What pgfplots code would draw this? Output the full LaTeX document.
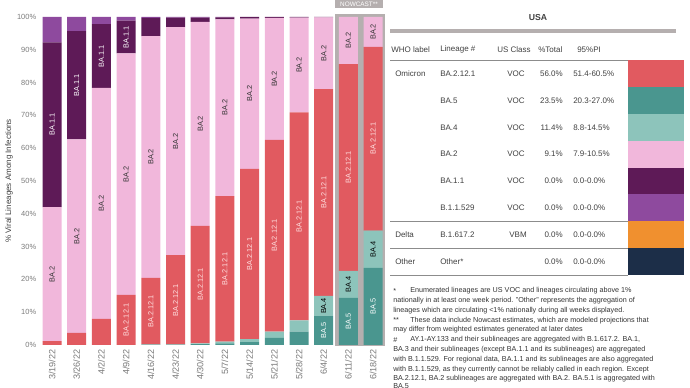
\documentclass[border=0pt]{standalone}
\usepackage{pgfplots}
\pgfplotsset{compat=1.18}
\usepackage{pgfplotstable}
\usepackage{fontspec}
\setmainfont{Liberation Sans}
\definecolor{cBAfive}{HTML}{4A968F}
\definecolor{cBAfour}{HTML}{8DC4BB}
\definecolor{cBAtwelve}{HTML}{E15A60}
\definecolor{cBAtwo}{HTML}{F1B7DB}
\definecolor{cBAoneone}{HTML}{5E1A57}
\definecolor{cBonefive}{HTML}{8E4A9E}
\definecolor{cDelta}{HTML}{F0902F}
\definecolor{cOther}{HTML}{1C2E48}
\definecolor{cGrey}{HTML}{B5AFAF}
\definecolor{cText}{HTML}{404040}
\definecolor{cTick}{HTML}{7A7A7A}

\pgfplotstableread{
idx BAfive BAfour BAtwelve BAtwo BAoneone Bonefive
0  0    0    1.2  40.8 50.3 7.7
1  0    0    3.7  59.0 33.0 4.3
2  0    0    8.0  70.4 19.4 2.2
3  0    0    15.3 73.6 10.0 1.1
4  0.1  0.1  20.3 73.7 5.5  0.3
5  0.1  0.1  27.2 69.5 2.9  0.2
6  0.3  0.2  35.8 62.2 1.3  0.2
7  0.5  0.5  44.4 53.9 0.6  0.1
8  0.9  0.9  51.9 45.8 0.5  0
9  2.2  1.9  58.4 37.2 0.3  0
10 4.1  3.4  63.4 28.9 0.2  0
11 8.8  6.2  63.0 21.9 0.1  0
12 14.4 8.2  63.0 14.4 0    0
13 23.5 11.4 56.0 9.1  0    0
}\datatable

\tikzset{
  lbl/.style={rotate=90, font=\fontsize{5.5}{6}\selectfont, inner sep=0pt},
  tb/.style={font=\fontsize{6}{7}\selectfont, text=cText, inner sep=0pt},
  fn/.style={font=\fontsize{5.4}{6}\selectfont, text=black!80, inner sep=0pt, anchor=west},
}

\begin{document}
\begin{tikzpicture}
\useasboundingbox (0,0) rectangle (517.5pt,-291pt);
\begin{scope}[x=0.75pt,y=-0.75pt]
  % Nowcast frame
  \fill[cGrey] (335,14) rectangle (385,346.5);
  \fill[cGrey] (335,0) rectangle (383,8.5);
  \node[text=white, font=\fontsize{4.8}{5}\selectfont, inner sep=0pt] at (359,4.3) {NOWCAST**};
  % y label
  \node[rotate=90, font=\fontsize{6}{7}\selectfont, text=cText] at (9,181) {\% Viral Lineages Among Infections};
\end{scope}

\begin{axis}[
  at={(30.675pt,-258.75pt)}, anchor=south west,
  x=18.525pt, y=2.46pt,
  xmin=-0.45, xmax=13.55, ymin=0, ymax=100,
  ybar stacked, bar width=14.25pt,
  axis lines*=left,
  axis line style={draw=none},
  major tick length=0pt,
  tick pos=left,
  /pgf/number format/assume math mode=true,
  ytick={0,10,...,100},
  yticklabel={\pgfmathprintnumber{\tick}\%},
  yticklabel style={font=\fontsize{5.6}{6}\selectfont, text=cTick},
  xtick=data,
  xticklabels={3/19/22,3/26/22,4/2/22,4/9/22,4/16/22,4/23/22,4/30/22,5/7/22,5/14/22,5/21/22,5/28/22,6/4/22,6/11/22,6/18/22},
  xticklabel style={rotate=90, anchor=east, font=\fontsize{6.8}{7}\selectfont, text=cTick},
  clip=false,
]
\addplot[fill=cBAfive, draw=none] table[x=idx,y=BAfive]{\datatable};
\addplot[fill=cBAfour, draw=none] table[x=idx,y=BAfour]{\datatable};
\addplot[fill=cBAtwelve, draw=none] table[x=idx,y=BAtwelve]{\datatable};
\addplot[fill=cBAtwo, draw=none] table[x=idx,y=BAtwo]{\datatable};
\addplot[fill=cBAoneone, draw=none] table[x=idx,y=BAoneone]{\datatable};
\addplot[fill=cBonefive, draw=none] table[x=idx,y=Bonefive]{\datatable};

% label anchor points (segment centres)
\coordinate (a0) at (axis cs:0,67.15);
\coordinate (a1) at (axis cs:1,79.2);
\coordinate (a2) at (axis cs:2,88.1);
\coordinate (a3) at (axis cs:3,93.9);
\coordinate (b0) at (axis cs:0,21.6);
\coordinate (b1) at (axis cs:1,33.2);
\coordinate (b2) at (axis cs:2,43.2);
\coordinate (b3) at (axis cs:3,52.1);
\coordinate (b4) at (axis cs:4,57.35);
\coordinate (b5) at (axis cs:5,62.15);
\coordinate (b6) at (axis cs:6,67.4);
\coordinate (b7) at (axis cs:7,72.35);
\coordinate (b8) at (axis cs:8,76.6);
\coordinate (b9) at (axis cs:9,81.1);
\coordinate (b10) at (axis cs:10,85.35);
\coordinate (b11) at (axis cs:11,88.95);
\coordinate (b12) at (axis cs:12,92.8);
\coordinate (b13) at (axis cs:13,95.45);
\coordinate (r3) at (axis cs:3,7.65);
\coordinate (r4) at (axis cs:4,10.25);
\coordinate (r5) at (axis cs:5,13.7);
\coordinate (r6) at (axis cs:6,18.4);
\coordinate (r7) at (axis cs:7,23.2);
\coordinate (r8) at (axis cs:8,27.75);
\coordinate (r9) at (axis cs:9,33.3);
\coordinate (r10) at (axis cs:10,39.2);
\coordinate (r11) at (axis cs:11,46.5);
\coordinate (r12) at (axis cs:12,54.1);
\coordinate (r13) at (axis cs:13,62.9);
\coordinate (f11) at (axis cs:11,11.9);
\coordinate (f12) at (axis cs:12,18.5);
\coordinate (f13) at (axis cs:13,29.2);
\coordinate (v11) at (axis cs:11,4.4);
\coordinate (v12) at (axis cs:12,7.2);
\coordinate (v13) at (axis cs:13,11.75);
\end{axis}

% bar labels, on top of the bars
\foreach \p in {a0,a1,a2,a3} {\node[lbl, text=white] at (\p) {BA.1.1};}
\foreach \p in {b0,b1,b2,b3,b4,b5,b6,b7,b8,b9,b10,b11,b12,b13} {\node[lbl, text=black!80] at (\p) {BA.2};}
\foreach \p in {r3,r4,r5,r6,r7,r8,r9,r10,r11,r12,r13} {\node[lbl, text=white!88!red] at (\p) {BA.2.12.1};}
\foreach \p in {f11,f12,f13} {\node[lbl, text=black] at (\p) {BA.4};}
\foreach \p in {v11,v12,v13} {\node[lbl, text=white] at (\p) {BA.5};}

\begin{scope}[x=0.75pt,y=-0.75pt]
  % table
  \node[tb, font=\fontsize{6.5}{7}\selectfont\bfseries] at (538,18) {USA};
  \fill[cGrey] (390,29) rectangle (676,33);
  \node[tb, anchor=west] at (391,49.5) {WHO label};
  \node[tb, anchor=west] at (440,49.5) {Lineage \#};
  \node[tb, anchor=west] at (497,49.5) {US Class};
  \node[tb, anchor=west] at (538,49.5) {\%Total};
  \node[tb, anchor=west] at (577,49.5) {95\%PI};
  \draw[black!45, line width=0.6pt] (390,60.5) -- (628,60.5);
  \draw[black!45, line width=0.6pt] (390,221.4) -- (628,221.4);
  \draw[black!45, line width=0.6pt] (390,248.3) -- (628,248.3);
  \draw[black!45, line width=0.6pt] (390,275.2) -- (628,275.2);
  \fill[cBAtwelve] (628,60) rectangle (684,86.9);
  \fill[cBAfive]   (628,86.9) rectangle (684,113.8);
  \fill[cBAfour]   (628,113.8) rectangle (684,140.7);
  \fill[cBAtwo]    (628,140.7) rectangle (684,167.6);
  \fill[cBAoneone] (628,167.6) rectangle (684,194.5);
  \fill[cBonefive] (628,194.5) rectangle (684,221.4);
  \fill[cDelta]    (628,221.4) rectangle (684,248.3);
  \fill[cOther]    (628,248.3) rectangle (684,275.2);
  % rows
  \node[tb, anchor=west] at (395,73.5) {Omicron};
  \node[tb, anchor=west] at (440,73.5) {BA.2.12.1};
  \node[tb, anchor=east] at (525,73.5) {VOC};
  \node[tb, anchor=east] at (563,73.5) {56.0\%};
  \node[tb, anchor=west] at (573,73.5) {51.4-60.5\%};
  \node[tb, anchor=west] at (440,100.4) {BA.5};
  \node[tb, anchor=east] at (525,100.4) {VOC};
  \node[tb, anchor=east] at (563,100.4) {23.5\%};
  \node[tb, anchor=west] at (573,100.4) {20.3-27.0\%};
  \node[tb, anchor=west] at (440,127.3) {BA.4};
  \node[tb, anchor=east] at (525,127.3) {VOC};
  \node[tb, anchor=east] at (563,127.3) {11.4\%};
  \node[tb, anchor=west] at (573,127.3) {8.8-14.5\%};
  \node[tb, anchor=west] at (440,154.2) {BA.2};
  \node[tb, anchor=east] at (525,154.2) {VOC};
  \node[tb, anchor=east] at (563,154.2) {9.1\%};
  \node[tb, anchor=west] at (573,154.2) {7.9-10.5\%};
  \node[tb, anchor=west] at (440,181.1) {BA.1.1};
  \node[tb, anchor=east] at (525,181.1) {VOC};
  \node[tb, anchor=east] at (563,181.1) {0.0\%};
  \node[tb, anchor=west] at (573,181.1) {0.0-0.0\%};
  \node[tb, anchor=west] at (440,208) {B.1.1.529};
  \node[tb, anchor=east] at (525,208) {VOC};
  \node[tb, anchor=east] at (563,208) {0.0\%};
  \node[tb, anchor=west] at (573,208) {0.0-0.0\%};
  \node[tb, anchor=west] at (395,234.9) {Delta};
  \node[tb, anchor=west] at (440,234.9) {B.1.617.2};
  \node[tb, anchor=east] at (527,234.9) {VBM};
  \node[tb, anchor=east] at (563,234.9) {0.0\%};
  \node[tb, anchor=west] at (573,234.9) {0.0-0.0\%};
  \node[tb, anchor=west] at (395,261.8) {Other};
  \node[tb, anchor=west] at (440,261.8) {Other*};
  \node[tb, anchor=east] at (563,261.8) {0.0\%};
  \node[tb, anchor=west] at (573,261.8) {0.0-0.0\%};
  % footnotes
  \node[fn] at (393,290.8) {*};
  \node[fn] at (410,290.8) {Enumerated lineages are US VOC and lineages circulating above 1\%};
  \node[fn] at (393,300.6) {nationally in at least one week period. "Other" represents the aggregation of};
  \node[fn] at (393,310.4) {lineages which are circulating <1\% nationally during all weeks displayed.};
  \node[fn] at (393,320.2) {**};
  \node[fn] at (410,320.2) {These data include Nowcast estimates, which are modeled projections that};
  \node[fn] at (393,330.0) {may differ from weighted estimates generated at later dates};
  \node[fn] at (393,339.8) {\#};
  \node[fn] at (410,339.8) {AY.1-AY.133 and their sublineages are aggregated with B.1.617.2. BA.1,};
  \node[fn] at (393,349.6) {BA.3 and their sublineages (except BA.1.1 and its sublineages) are aggregated};
  \node[fn] at (393,359.4) {with B.1.1.529. For regional data, BA.1.1 and its sublineages are also aggregated};
  \node[fn] at (393,369.2) {with B.1.1.529, as they currently cannot be reliably called in each region. Except};
  \node[fn] at (393,379.0) {BA.2.12.1, BA.2 sublineages are aggregated with BA.2. BA.5.1 is aggregated with};
  \node[fn] at (393,385.6) {BA.5};
\end{scope}
\end{tikzpicture}
\end{document}
